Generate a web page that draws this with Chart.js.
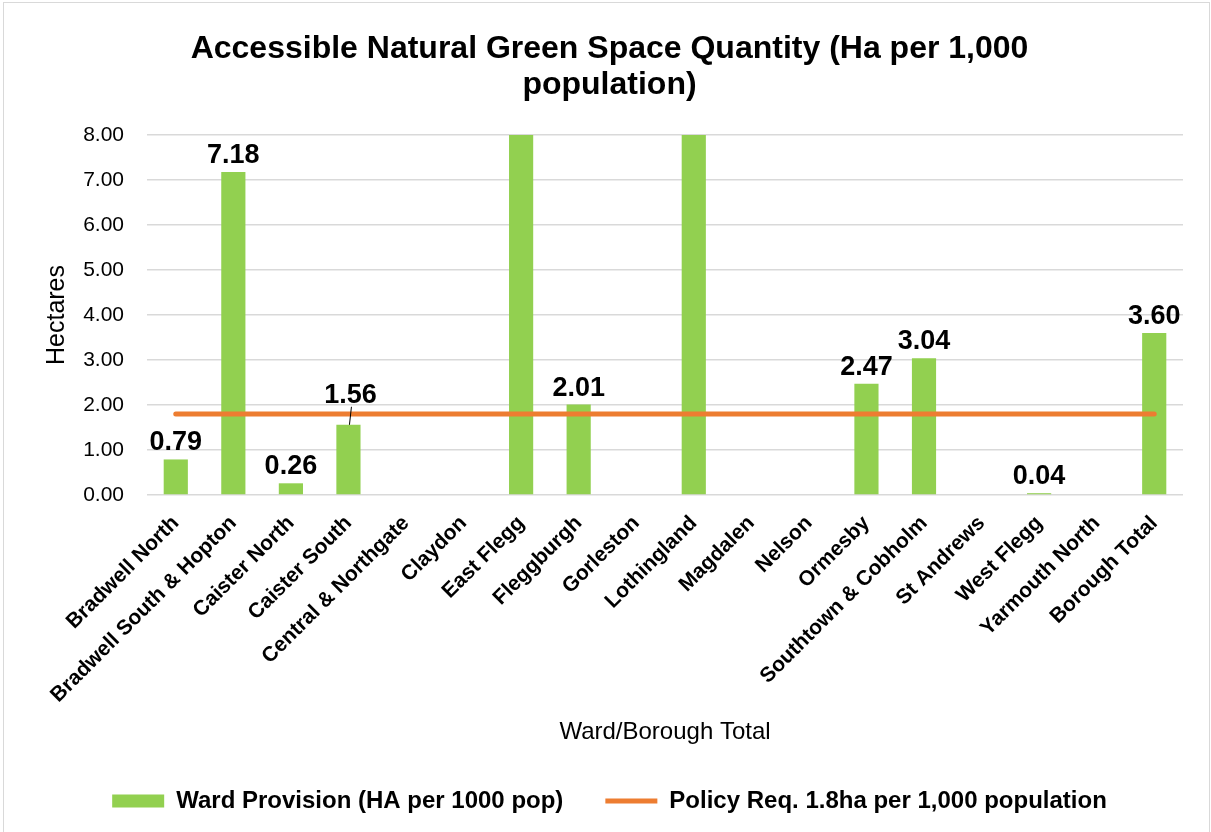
<!DOCTYPE html>
<html>
<head>
<meta charset="utf-8">
<script src="https://cdn.jsdelivr.net/npm/chart.js@4/dist/chart.umd.min.js"></script>
<style>
  body { margin: 0; background: #fff; }
  #marco { position: absolute; left: 3px; top: 2px; width: 1205px; height: 840px; border: 1px solid #d9d9d9; }
  #lienzo { position: absolute; left: 0; top: 0; width: 1211px; height: 832px; }
</style>
</head>
<body>
<div id="marco"></div>
<div id="lienzo"><canvas id="myChart"></canvas></div>
<script>
// datos del grafico
var wards = ['Bradwell North', 'Bradwell South & Hopton', 'Caister North', 'Caister South',
    'Central & Northgate', 'Claydon', 'East Flegg', 'Fleggburgh', 'Gorleston', 'Lothingland',
    'Magdalen', 'Nelson', 'Ormesby', 'Southtown & Cobholm', 'St Andrews', 'West Flegg',
    'Yarmouth North', 'Borough Total']
// East Flegg y Lothingland salen del eje (> 8), valores estimados
var provision = [0.79, 7.18, 0.26, 1.56, null, null, 11.5, 2.01, null, 13.2,
    null, null, 2.47, 3.04, null, 0.04, null, 3.60]
var policy = [1.8, 1.8, 1.8, 1.8, 1.8, 1.8, 1.8, 1.8, 1.8, 1.8,
    1.8, 1.8, 1.8, 1.8, 1.8, 1.8, 1.8, 1.8]
var yMin = 0
var yMax = 8
var yStep = 1

var fuente = '"Liberation Sans", Arial, sans-serif'
Chart.defaults.font.family = fuente
Chart.defaults.color = '#000'

// etiqueta de Caister South subida, con linea guia
var subir = { 3: 13 }

var etiquetas = {
    id: 'etiquetas',
    afterDatasetsDraw(chart) {
        var ctx = chart.ctx
        var meta = chart.getDatasetMeta(0)
        var tope = chart.scales.y.max
        ctx.save()
        ctx.font = 'bold 27px ' + fuente
        ctx.fillStyle = '#000'
        ctx.textAlign = 'center'
        ctx.textBaseline = 'alphabetic'
        meta.data.forEach((bar, i) => {
            var v = provision[i]
            if (v === null || v > tope) return
            var lift = subir[i] || 0
            var y = bar.y - 9 - lift
            ctx.fillText(v.toFixed(2), bar.x + (lift ? 2 : 0), y)
            if (lift) {
                ctx.strokeStyle = '#000'
                ctx.lineWidth = 1
                ctx.beginPath()
                ctx.moveTo(bar.x + 1, bar.y)
                ctx.lineTo(bar.x + 3, y + 4)
                ctx.stroke()
            }
        })
        ctx.restore()
    }
}

var ctx = document.getElementById('myChart')
var myChart = new Chart(ctx, {
    type: 'bar',
    data: {
        labels: wards,
        datasets: [{
            label: 'Ward Provision (HA per 1000 pop)',
            data: provision,
            backgroundColor: '#92D050',
            borderWidth: 0,
            barPercentage: 0.42,
            categoryPercentage: 1,
            pointStyle: 'rect',
            order: 1
        }, {
            type: 'line',
            label: 'Policy Req. 1.8ha per 1,000 population',
            data: policy,
            borderColor: '#ED7D31',
            backgroundColor: '#ED7D31',
            borderWidth: 5,
            borderCapStyle: 'round',
            pointRadius: 0,
            pointHoverRadius: 0,
            pointBorderWidth: 5,
            pointBorderColor: '#ED7D31',
            pointStyle: 'line',
            order: 0
        }]
    },
    options: {
        responsive: true,
        maintainAspectRatio: false,
        devicePixelRatio: 1,
        animation: false,
        layout: { padding: { left: 36, right: 28, top: 0, bottom: 9 } },
        plugins: {
            title: {
                display: true,
                text: ['Accessible Natural Green Space Quantity (Ha per 1,000', 'population)'],
                color: '#000',
                font: { size: 32, weight: 'bold', lineHeight: 1.125 },
                padding: { top: 31, bottom: 32 }
            },
            legend: {
                position: 'bottom',
                labels: {
                    color: '#000',
                    font: { size: 24, weight: 'bold' },
                    usePointStyle: true,
                    pointStyleWidth: 52,
                    boxHeight: 13,
                    padding: 42,
                    sort: (a, b) => a.datasetIndex - b.datasetIndex
                }
            },
            tooltip: { enabled: false }
        },
        scales: {
            x: {
                grid: { display: false },
                border: { display: false },
                ticks: {
                    color: '#000',
                    font: { size: 21, weight: 'bold' },
                    minRotation: 45,
                    maxRotation: 45,
                    autoSkip: false,
                    padding: 8
                },
                title: {
                    display: true,
                    text: 'Ward/Borough Total',
                    color: '#000',
                    font: { size: 24 },
                    padding: { top: 0, bottom: 0 }
                },
                afterFit: (s) => { s.height = 252 }
            },
            y: {
                min: yMin,
                max: yMax,
                grid: { color: '#d9d9d9', lineWidth: 1.5, drawTicks: false },
                border: { display: false },
                ticks: {
                    stepSize: yStep,
                    color: '#000',
                    font: { size: 21 },
                    padding: 23,
                    callback: (v) => v.toFixed(2)
                },
                title: {
                    display: true,
                    text: 'Hectares',
                    color: '#000',
                    font: { size: 25 },
                    padding: { top: 6.5 }
                },
                afterFit: (s) => { s.width = 111 }
            }
        }
    },
    plugins: [etiquetas]
})
</script>
</body>
</html>
